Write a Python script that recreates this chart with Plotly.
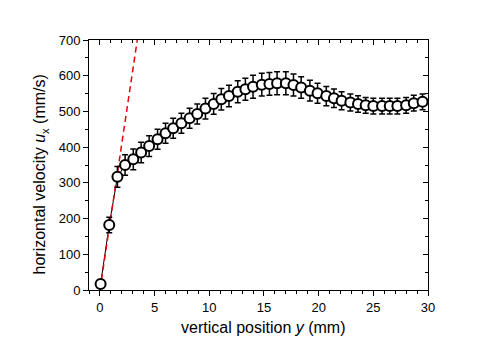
import plotly.graph_objects as go

# data
y_pos = [0.06, 0.85, 1.6, 2.3, 3.05, 3.77, 4.5, 5.27, 6.0, 6.7, 7.45, 8.2, 8.9, 9.65,
         10.4, 11.1, 11.8, 12.6, 13.3, 14.0, 14.8, 15.5, 16.2, 17.0, 17.7, 18.4, 19.2,
         19.9, 20.7, 21.4, 22.1, 22.9, 23.6, 24.3, 25.0, 25.8, 26.5, 27.2, 28.0, 28.7, 29.5]
u_x = [17, 182, 317, 350, 366, 385, 403, 422, 439, 453, 467, 481, 493, 508,
       521, 534, 543, 555, 562, 569, 575, 577, 579, 579, 574, 567, 558,
       551, 543, 537, 530, 525, 521, 517, 515, 515, 515, 515, 517, 523, 527]
u_err = [10, 22, 29, 29, 29, 29, 29, 28, 28, 28, 28, 28, 28, 29,
         29, 30, 30, 31, 31, 32, 32, 32, 32, 32, 31, 30, 29,
         28, 27, 26, 25, 24, 23, 22, 22, 22, 22, 22, 22, 22, 22]
fit_x = [0.0, 3.5]
fit_y = [0.0, 717.5]

x_ticks = [0, 5, 10, 15, 20, 25, 30]
y_ticks = [0, 100, 200, 300, 400, 500, 600, 700]

FONT = "Liberation Sans, Arial, sans-serif"

fig = go.Figure()
fig.add_trace(go.Scatter(x=y_pos, y=u_x, mode="lines",
                         line=dict(color="black", width=1), showlegend=False,
                         hoverinfo="skip"))
fig.add_trace(go.Scatter(x=fit_x, y=fit_y, mode="lines",
                         line=dict(color="#e8000b", width=1.5, dash="6px,4px"),
                         showlegend=False))
fig.add_trace(go.Scatter(x=y_pos, y=u_x, mode="markers",
                         marker=dict(symbol="circle", size=10, color="white",
                                     line=dict(color="black", width=2)),
                         error_y=dict(type="data", array=u_err, visible=True,
                                      color="black", thickness=1.5, width=3),
                         showlegend=False))

common = dict(showgrid=False, zeroline=False, linecolor="black", linewidth=1,
              tickcolor="black", tickfont=dict(family=FONT, size=13, color="black"))

fig.update_layout(
    width=498, height=348,
    margin=dict(l=81, r=78, t=32, b=66),
    paper_bgcolor="white", plot_bgcolor="white",
    font=dict(family=FONT, color="black"),
    xaxis=dict(range=[-1, 30], tickvals=x_ticks, ticks="outside", ticklen=5,
               showline=True, mirror=True,
               minor=dict(dtick=1, tick0=0, ticks="outside", ticklen=3, tickcolor="black"),
               **common),
    yaxis=dict(range=[0, 700], tickvals=y_ticks, ticks="outside", ticklen=5,
               showline=True, mirror=True,
               minor=dict(dtick=50, tick0=0, ticks="outside", ticklen=3, tickcolor="black"),
               **common),
    xaxis2=dict(range=[-1, 30], overlaying="x", side="top", anchor="y",
                tickvals=x_ticks, ticks="inside", ticklen=5, showticklabels=False,
                minor=dict(dtick=1, tick0=0, ticks="inside", ticklen=3, tickcolor="black"),
                showgrid=False, zeroline=False, tickcolor="black", showline=False),
    yaxis2=dict(range=[0, 700], overlaying="y", side="right", anchor="x",
                tickvals=y_ticks, ticks="inside", ticklen=5, showticklabels=False,
                minor=dict(dtick=50, tick0=0, ticks="inside", ticklen=3, tickcolor="black"),
                showgrid=False, zeroline=False, tickcolor="black", showline=False),
    annotations=[
        dict(text="vertical position <i>y</i> (mm)", xref="paper", yref="paper",
             x=0.5147, y=-0.148, xanchor="center", yanchor="middle",
             showarrow=False, font=dict(family=FONT, size=16, color="black")),
        dict(text="horizontal velocity <i>u</i><sub>x</sub> (mm/s)", xref="paper",
             yref="paper", x=-0.1416, y=0.462, xanchor="center", yanchor="middle",
             textangle=-90, showarrow=False,
             font=dict(family=FONT, size=16, color="black")),
    ],
)
# invisible trace so the mirrored axes render
fig.add_trace(go.Scatter(x=[None], y=[None], xaxis="x2", yaxis="y2",
                         showlegend=False, hoverinfo="skip"))

fig.write_html("out.html")
